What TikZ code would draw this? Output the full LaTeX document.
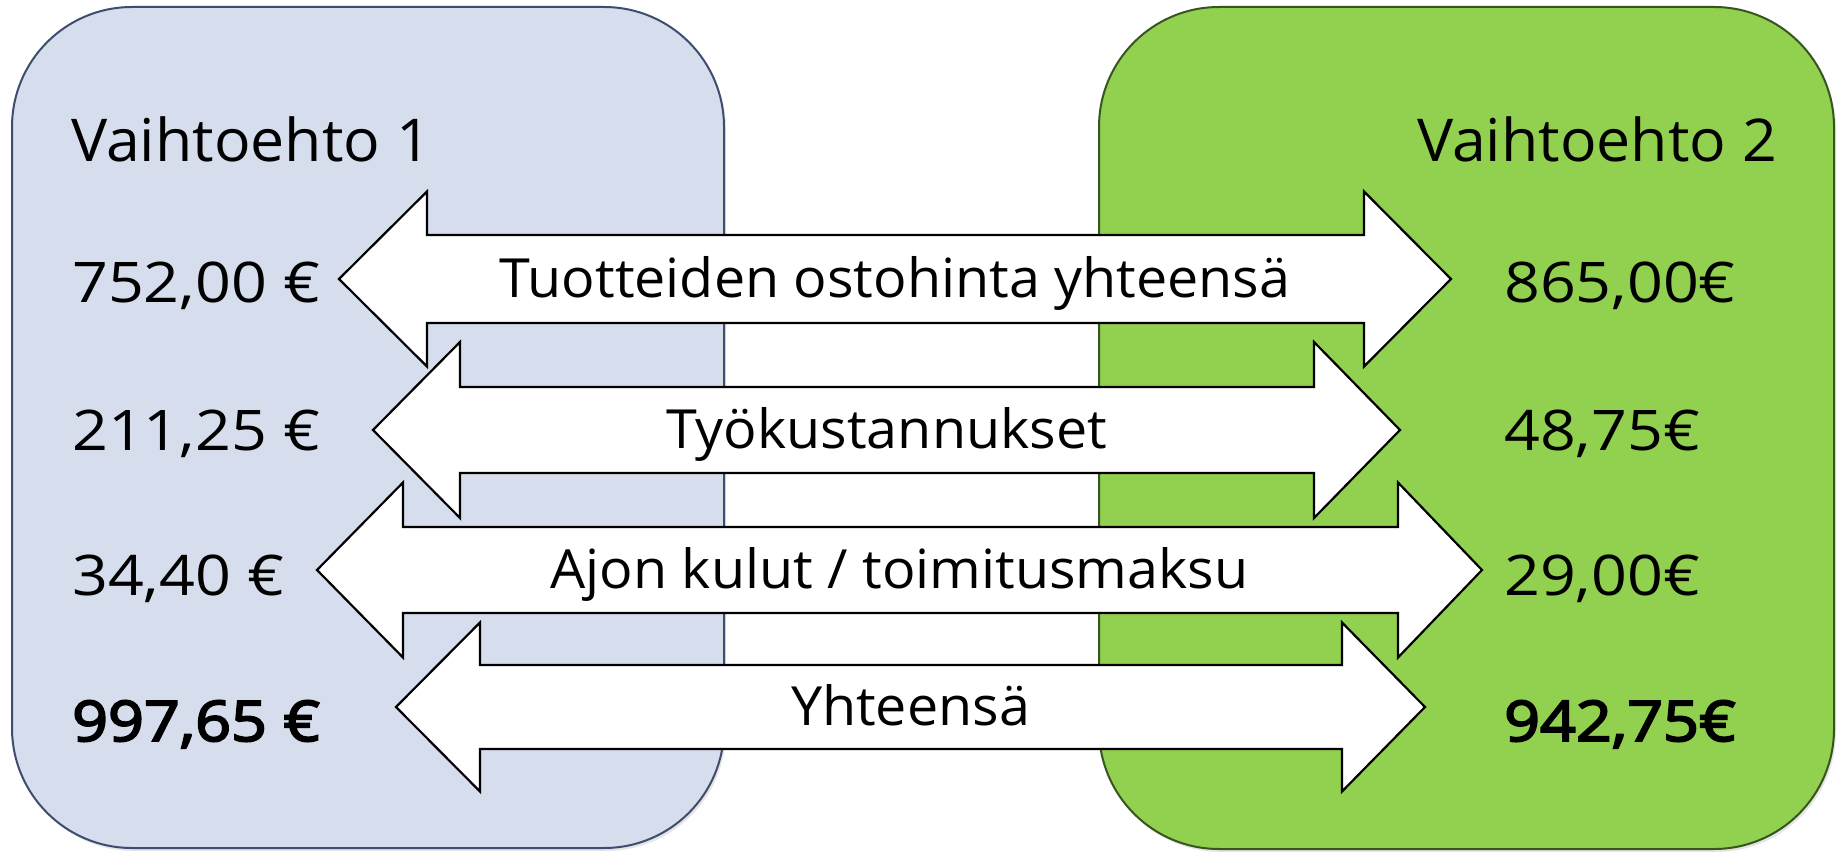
\documentclass[tikz,border=0pt]{standalone}
\usepackage{fontspec}
\usetikzlibrary{shadows}
\setmainfont{Open Sans}
\newfontfamily\numfont[FakeStretch=1.12]{Open Sans}
\newfontfamily\numboldfont[FakeStretch=1.12,FakeBold=3.5]{Open Sans}
\newfontfamily\titlefont[FakeStretch=1.03]{Open Sans}
\newfontfamily\lblfont[FakeStretch=1.03]{Open Sans}
\definecolor{boxblue}{RGB}{214,221,237}
\definecolor{boxblueline}{RGB}{62,77,110}
\definecolor{boxgreen}{RGB}{146,208,80}
\definecolor{boxgreenline}{RGB}{55,85,30}
\tikzset{
  optbox/.style={line width=2pt, rounded corners=120pt,
    drop shadow={shadow xshift=2pt, shadow yshift=-3pt, opacity=0.2}},
  dblarrow/.style={draw=black, fill=white, line width=2.2pt, line join=miter},
  title/.style={anchor=base west, inner sep=0pt, font=\titlefont\fontsize{59}{60}\selectfont},
  val/.style={anchor=base west, inner sep=0pt, font=\numfont\fontsize{56}{58}\selectfont},
  valb/.style={anchor=base west, inner sep=0pt, font=\numboldfont\fontsize{56}{58}\selectfont},
  lbl/.style={anchor=base, inner sep=0pt, font=\lblfont\fontsize{54}{56}\selectfont}
}
% double arrow: #1 left tip x, #2 left back x, #3 right back x, #4 right tip x, #5 center y, #6 head half, #7 shaft half, #8 name
\newcommand{\dblarrowpath}[8]{%
  \draw[dblarrow] (#1,#5) -- (#2,#5-#6) -- (#2,#5-#7) -- (#3,#5-#7) -- (#3,#5-#6)
    -- (#4,#5) -- (#3,#5+#6) -- (#3,#5+#7) -- (#2,#5+#7) -- (#2,#5+#6) -- cycle;
  \coordinate (#8) at ({(#1+#4)/2},#5);
}
\begin{document}
\begin{tikzpicture}[x=1pt,y=-1pt]
\useasboundingbox (0,0) rectangle (1839,853);
\fill[white] (0,0) rectangle (1839,853);
% boxes
\draw[optbox, fill=boxblue, draw=boxblueline] (12,7) rectangle (724,848);
\draw[optbox, fill=boxgreen, draw=boxgreenline] (1099,7) rectangle (1834,849);
% titles
\node[title] (t1) at (71,162) {Vaihtoehto 1};
\node[title, anchor=base east] (t2) at (1777,162) {Vaihtoehto 2};
% arrows
\dblarrowpath{339}{427}{1364}{1451}{279}{87.5}{44}{a1}
\dblarrowpath{373}{460}{1314}{1400}{430}{88}{43}{a2}
\dblarrowpath{317}{403}{1398}{1482}{570}{87.5}{43}{a3}
\dblarrowpath{396}{480}{1342}{1425}{707}{84.5}{42}{a4}
% arrow labels
\node[lbl] (l1) at ([yshift=-18pt]a1) {Tuotteiden ostohinta yhteensä};
\node[lbl] (l2) at ([yshift=-18pt]a2) {Työkustannukset};
\node[lbl] (l3) at ([yshift=-18pt]a3) {Ajon kulut / toimitusmaksu};
\node[lbl] (l4) at ([yshift=-18pt]a4) {Yhteensä};
% left values
\node[val] (v11) at (72,302) {752,00 €};
\node[val] (v12) at (72,450) {211,25 €};
\node[val] (v13) at (72,595) {34,40 €};
\node[valb] (v14) at (72,741) {997,65 €};
% right values
\node[val] (v21) at (1504,302) {865,00€};
\node[val] (v22) at (1504,450) {48,75€};
\node[val] (v23) at (1504,595) {29,00€};
\node[valb] (v24) at (1504,741) {942,75€};
\end{tikzpicture}
\end{document}
